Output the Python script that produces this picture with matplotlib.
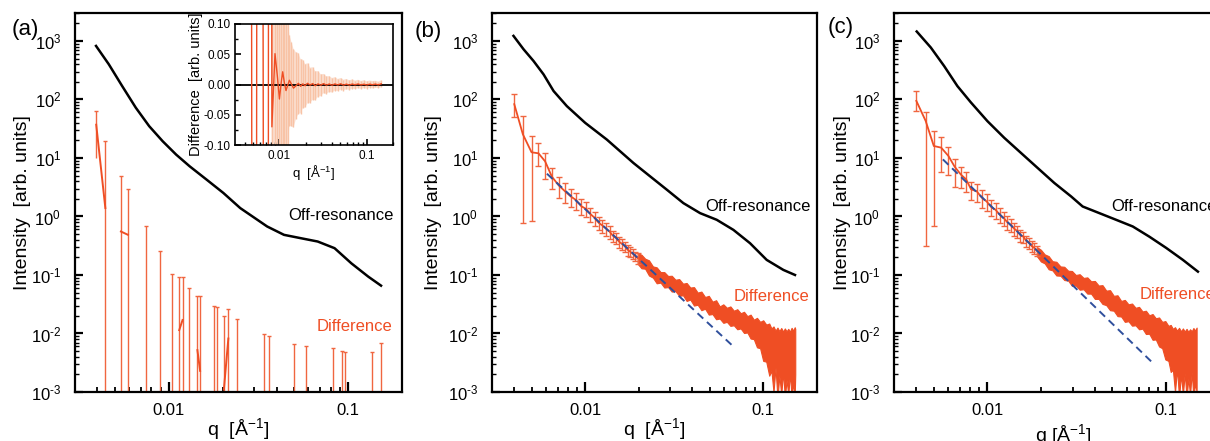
import numpy as np
import matplotlib.pyplot as plt
from matplotlib import ticker

plt.rcParams['font.family'] = ['Liberation Sans', 'DejaVu Sans']
plt.rcParams['mathtext.fontset'] = 'custom'
plt.rcParams['mathtext.rm'] = 'Liberation Sans'
plt.rcParams['mathtext.it'] = 'Liberation Sans:italic'
plt.rcParams['mathtext.bf'] = 'Liberation Sans:bold'

ORANGE = '#ef4e24'
BAR = '#f06640'
BLUE = '#2f4f9c'
LIGHT = '#f8c3a6'

# ---- off-resonance curves (q in 1/A, intensity in arb. units)
off_a_q = [0.00393, 0.00463, 0.0055, 0.00655, 0.00778, 0.00925, 0.0110, 0.01308, 0.01626, 0.02017,
           0.02505, 0.03539, 0.04394, 0.05455, 0.06773, 0.0841, 0.1044, 0.1297, 0.1528]
off_a_I = [821, 399, 169, 72.2, 34.9, 19.3, 11.4, 7.2, 4.26, 2.52, 1.39, 0.674, 0.485, 0.425,
           0.373, 0.287, 0.158, 0.0936, 0.0657]
off_b_q = [0.00396, 0.00451, 0.00513, 0.00584, 0.00665, 0.00789, 0.0100, 0.01323, 0.01866, 0.02314,
           0.02871, 0.03558, 0.04415, 0.05473, 0.06789, 0.08418, 0.1044, 0.1295, 0.1505]
off_b_I = [1219, 720, 454, 268, 139, 76.9, 39.8, 20.6, 8.2, 4.85, 2.87, 1.69, 1.14, 0.877, 0.59,
           0.349, 0.181, 0.122, 0.100]
off_c_q = [0.00402, 0.00482, 0.00572, 0.00679, 0.00807, 0.0100, 0.01241, 0.01539, 0.01907, 0.02365,
           0.02937, 0.03409, 0.04227, 0.05244, 0.06502, 0.08062, 0.1000, 0.1240, 0.1505]
off_c_I = [1449, 771, 373, 169, 89.2, 42.5, 22.1, 12.2, 6.76, 3.74, 2.2, 1.48, 1.14, 0.877,
           0.674, 0.45, 0.29, 0.181, 0.114]

# ---- panel (a): difference, only error-bar tops visible on log scale
diff_a_q = [0.00394, 0.00443, 0.00541, 0.00592, 0.00745, 0.00894, 0.0104, 0.01144, 0.01194, 0.01296,
            0.01445, 0.01496, 0.0179, 0.0186, 0.0203, 0.0215, 0.0240, 0.0340, 0.0361, 0.0502,
            0.0585, 0.0827, 0.0925, 0.0957, 0.1365, 0.1528]
diff_a_top = [63, 19.3, 5.0, 2.98, 0.69, 0.26, 0.103, 0.092, 0.091, 0.059, 0.044, 0.044, 0.029,
              0.028, 0.0198, 0.0258, 0.0174, 0.00975, 0.0090, 0.0065, 0.0061, 0.0057, 0.0051,
              0.0049, 0.0049, 0.0069]
diff_a_bot = [10, 1e-4, 1e-4, 1e-4, 1e-4, 1e-4, 1e-4, 1e-4, 1e-4, 1e-4, 1e-4, 1e-4, 1e-4,
              1e-4, 1e-4, 1e-4, 1e-4, 1e-4, 1e-4, 1e-4, 1e-4, 1e-4, 1e-4, 1e-4, 1e-4, 1e-4]
seg_a_q = [[0.00394, 0.00443], [0.00541, 0.00592], [0.01144, 0.01194], [0.01445, 0.01496], [0.0203, 0.0215]]
seg_a_I = [[37, 1.39], [0.553, 0.486], [0.0114, 0.017], [0.0052, 0.0023], [0.0011, 0.0082]]

# ---- inset of (a): linear difference
ins_q = [0.0045, 0.00515, 0.00585, 0.00727, 0.0077, 0.0082, 0.0089, 0.0095, 0.0100, 0.0105,
         0.0109, 0.0114, 0.0119, 0.0124, 0.0130, 0.0137, 0.0145, 0.0155, 0.0165, 0.0175,
         0.0185, 0.0197, 0.0210, 0.0225, 0.0240, 0.0258, 0.0277, 0.0298, 0.0320, 0.0345,
         0.0372, 0.0400, 0.0432, 0.0466, 0.0502, 0.0542, 0.0585, 0.0632, 0.0682, 0.0736,
         0.0795, 0.0858, 0.0926, 0.1000, 0.1080, 0.1165, 0.1258, 0.1358, 0.1466]
ins_val = [4.0, -4.0, 4.0, -4.0, 4.0, -0.07, 0.051, 0.012, -0.024, 0.004,
           0.021, 0.003, -0.010, -0.002, 0.007, 0.001, -0.006, -0.002, 0.002, -0.003,
           0.001, -0.002, 0.002, -0.001, 0.0015, -0.002, 0.001, -0.0012, 0.0015, -0.001,
           0.0008, -0.0012, 0.001, -0.0008, 0.0012, -0.001, 0.0006, -0.001, 0.0008, -0.0005,
           0.0009, -0.0007, 0.0005, -0.0008, 0.0006, -0.0004, 0.0007, -0.0006, 0.0012]
ins_err = [0.5, 0.5, 0.5, 0.5, 0.5, 0.5, 0.5, 0.5, 0.5, 0.45,
           0.3, 0.2, 0.15, 0.11, 0.075, 0.07, 0.065, 0.055, 0.05, 0.045,
           0.04, 0.036, 0.033, 0.029, 0.027, 0.024, 0.021, 0.018, 0.016, 0.0145,
           0.013, 0.012, 0.011, 0.010, 0.0095, 0.009, 0.0085, 0.008, 0.0075, 0.007,
           0.007, 0.0065, 0.0065, 0.006, 0.006, 0.006, 0.0055, 0.0055, 0.0055]

# ---- panel (b): difference with error bars + noisy high-q band
diff_b_q = [0.0040, 0.00447, 0.0050, 0.00547, 0.00596, 0.0065, 0.0071, 0.0077, 0.0083, 0.0089,
            0.0095, 0.0101, 0.0107, 0.0113, 0.0119, 0.0125, 0.0131, 0.0137, 0.0143, 0.0149,
            0.0155, 0.0161, 0.0167, 0.0173, 0.0179, 0.0185, 0.0191, 0.0197]
diff_b_I = [83, 25.4, 12.5, 12.0, 8.75, 4.8, 3.4, 2.7, 2.2, 1.9, 1.5, 1.35, 1.1, 0.95, 0.78,
            0.70, 0.62, 0.55, 0.47, 0.43, 0.37, 0.34, 0.31, 0.27, 0.25, 0.23, 0.21, 0.195]
diff_b_lo = [50, 0.785, 0.85, 7.2, 4.3, 3.0, 2.1, 1.73, 1.45, 1.29, 1.05, 0.96, 0.79, 0.69, 0.58,
             0.525, 0.47, 0.42, 0.37, 0.335, 0.29, 0.27, 0.25, 0.215, 0.20, 0.185, 0.17, 0.155]
diff_b_hi = [123, 51.8, 23.4, 17.8, 12.0, 6.8, 4.7, 3.67, 2.95, 2.51, 1.95, 1.74, 1.41, 1.21, 0.98,
             0.875, 0.77, 0.68, 0.57, 0.525, 0.45, 0.41, 0.37, 0.325, 0.30, 0.275, 0.25, 0.235]
band_b_q = [0.0197, 0.0207, 0.0217, 0.0228, 0.0240, 0.0252, 0.0265, 0.0278, 0.0292, 0.0306,
            0.0321, 0.0337, 0.0354, 0.0371, 0.0389, 0.0408, 0.0428, 0.0449, 0.0471, 0.0494,
            0.0518, 0.0543, 0.0569, 0.0596, 0.0624, 0.0653, 0.0683, 0.0714, 0.0746, 0.0779,
            0.0813, 0.0848, 0.0884, 0.0921, 0.0959, 0.0998, 0.1038, 0.1079, 0.1110, 0.1140,
            0.1170, 0.1200, 0.1230, 0.1260, 0.1290, 0.1320, 0.1350, 0.1380, 0.1410, 0.1440,
            0.1470, 0.1500, 0.1510]
band_b_hi = [0.235, 0.222, 0.19, 0.178, 0.14, 0.135, 0.112, 0.112, 0.096, 0.097,
             0.083, 0.085, 0.071, 0.073, 0.061, 0.062, 0.050, 0.052, 0.042, 0.044,
             0.035, 0.037, 0.029, 0.0315, 0.0275, 0.029, 0.0245, 0.026, 0.0222, 0.0235,
             0.0198, 0.021, 0.0172, 0.0185, 0.0158, 0.0168, 0.0142, 0.0148, 0.0122, 0.0132,
             0.0112, 0.0126, 0.0110, 0.0124, 0.0108, 0.0122, 0.0109, 0.0120, 0.0107, 0.0125,
             0.0112, 0.0128, 0.0120]
band_b_lo = [0.155, 0.13, 0.128, 0.098, 0.090, 0.072, 0.074, 0.061, 0.062, 0.052,
             0.053, 0.044, 0.045, 0.036, 0.038, 0.030, 0.031, 0.025, 0.0265, 0.021,
             0.0215, 0.0175, 0.018, 0.0152, 0.0158, 0.0135, 0.0138, 0.0118, 0.0122, 0.0102,
             0.0104, 0.0082, 0.0080, 0.0058, 0.0056, 0.0034, 0.0033, 0.0019, 0.0023, 0.0010,
             0.0026, 0.0008, 0.0019, 0.0009, 0.0022, 0.0008, 0.0016, 0.0009, 0.0021, 0.0008,
             0.0014, 0.0009, 0.0020]
fit_b_q = [0.0061, 0.0681]
fit_b_I = [5.38, 0.00594]

# ---- panel (c)
diff_c_q = [0.0040, 0.00451, 0.00501, 0.00551, 0.00605, 0.00655, 0.0071, 0.0076, 0.0081, 0.0087,
            0.0093, 0.0099, 0.0105, 0.0111, 0.0117, 0.0123, 0.0129, 0.0135, 0.0141, 0.0147,
            0.0153, 0.0159, 0.0165, 0.0171, 0.0177, 0.0183, 0.0189]
diff_c_I = [94.6, 43, 16, 15, 10.8, 7.1, 5.2, 4.3, 2.9, 2.7, 2.1, 1.8, 1.45, 1.3, 1.08, 0.95,
            0.80, 0.72, 0.62, 0.56, 0.48, 0.45, 0.38, 0.355, 0.31, 0.29, 0.26]
diff_c_lo = [63.7, 0.31, 0.70, 5.7, 5.2, 3.2, 3.1, 2.6, 1.9, 1.75, 1.4, 1.22, 1.0, 0.91, 0.77,
             0.69, 0.59, 0.54, 0.47, 0.43, 0.37, 0.35, 0.30, 0.28, 0.245, 0.23, 0.21]
diff_c_hi = [140, 61, 28.9, 23, 15.6, 9.5, 7.1, 5.8, 3.9, 3.65, 2.8, 2.38, 1.9, 1.69, 1.39, 1.21,
             1.01, 0.90, 0.77, 0.69, 0.59, 0.55, 0.46, 0.43, 0.375, 0.35, 0.31]
band_c_q = [0.0189, 0.0199, 0.0209, 0.0220, 0.0231, 0.0243, 0.0256, 0.0269, 0.0283, 0.0297,
            0.0312, 0.0328, 0.0345, 0.0362, 0.0380, 0.0399, 0.0419, 0.0440, 0.0462, 0.0485,
            0.0509, 0.0534, 0.0560, 0.0587, 0.0615, 0.0644, 0.0674, 0.0705, 0.0737, 0.0770,
            0.0804, 0.0839, 0.0875, 0.0912, 0.0950, 0.0989, 0.1029, 0.1060, 0.1090, 0.1120,
            0.1150, 0.1180, 0.1210, 0.1240, 0.1270, 0.1300, 0.1330, 0.1360, 0.1390, 0.1420,
            0.1450, 0.1480]
band_c_hi = [0.30, 0.27, 0.225, 0.21, 0.172, 0.168, 0.140, 0.138, 0.118, 0.117,
             0.100, 0.103, 0.089, 0.091, 0.078, 0.079, 0.066, 0.067, 0.054, 0.055,
             0.044, 0.045, 0.036, 0.0375, 0.0315, 0.0325, 0.0275, 0.0285, 0.0238, 0.0245,
             0.0205, 0.0215, 0.0182, 0.0188, 0.0158, 0.0163, 0.0135, 0.0140, 0.0120, 0.0128,
             0.0112, 0.0125, 0.0109, 0.0122, 0.0108, 0.0120, 0.0107, 0.0118, 0.0109, 0.0124,
             0.0112, 0.0126]
band_c_lo = [0.21, 0.17, 0.158, 0.125, 0.12, 0.098, 0.097, 0.082, 0.080, 0.065,
             0.066, 0.056, 0.057, 0.048, 0.048, 0.039, 0.039, 0.032, 0.0305, 0.025,
             0.0245, 0.0198, 0.0195, 0.0158, 0.0162, 0.0136, 0.0138, 0.0118, 0.0121, 0.0098,
             0.0099, 0.0078, 0.0079, 0.0060, 0.0056, 0.0036, 0.0034, 0.0022, 0.0024, 0.0010,
             0.0025, 0.0008, 0.0020, 0.0009, 0.0021, 0.0008, 0.0017, 0.0009, 0.0022, 0.0008,
             0.0014, 0.0010]
fit_c_q = [0.00563, 0.0839]
fit_c_I = [9.46, 0.00316]


def decade_label(v, pos):
    # 10 with a hyphen exponent, narrower than the math minus
    return r'$\mathdefault{10^{\text{%d}}}$' % int(round(np.log10(v)))


def style_log(ax):
    ax.set_xscale('log')
    ax.set_yscale('log')
    ax.set_xlim(0.003, 0.2)
    ax.set_ylim(1e-3, 3e3)
    for s in ax.spines.values():
        s.set_linewidth(1.6)
    ax.set_xticks([0.01, 0.1], ['0.01', '0.1'])
    ax.xaxis.set_minor_locator(ticker.LogLocator(10, subs=np.arange(2, 10), numticks=20))
    ax.xaxis.set_minor_formatter(ticker.NullFormatter())
    ax.yaxis.set_major_locator(ticker.LogLocator(10, numticks=20))
    ax.yaxis.set_major_formatter(ticker.FuncFormatter(decade_label))
    ax.yaxis.set_minor_locator(ticker.LogLocator(10, subs=np.arange(2, 10), numticks=60))
    ax.yaxis.set_minor_formatter(ticker.NullFormatter())
    ax.tick_params(which='both', direction='in', top=False, right=False, labelsize=12)
    ax.tick_params(axis='x', which='major', length=7, width=1.6, pad=8)
    ax.tick_params(axis='x', which='minor', length=3.5, width=1.3)
    ax.tick_params(axis='y', which='major', length=5.5, width=1.6, pad=10)
    ax.tick_params(axis='y', which='minor', length=3, width=1.0)
    ax.set_ylabel('Intensity  [arb. units]', fontsize=14)


def diff_panel(ax, q, I, lo, hi, bq, blo, bhi, fq, fI):
    I = np.array(I)
    yerr = [I - np.array(lo), np.array(hi) - I]
    ax.fill_between(bq, blo, bhi, color=ORANGE, lw=0.8, ec=ORANGE)
    ax.errorbar(q, I, yerr=yerr, color=ORANGE, ecolor=BAR, lw=1.3, elinewidth=1.0,
                capsize=2, capthick=1.0)
    ax.plot(fq, fI, color=BLUE, lw=1.4, dashes=(4, 2.6), zorder=5)


fig = plt.figure(figsize=(12.1, 4.41), dpi=100)
ax_a = fig.add_axes([75 / 1210, 49 / 441, 327 / 1210, 379 / 441])
ax_b = fig.add_axes([492 / 1210, 49 / 441, 325 / 1210, 379 / 441])
ax_c = fig.add_axes([894 / 1210, 49 / 441, 326 / 1210, 379 / 441])
for ax in (ax_a, ax_b, ax_c):
    style_log(ax)

# (a)
ax_a.plot(off_a_q, off_a_I, color='black', lw=1.8)
ax_a.vlines(diff_a_q, diff_a_bot, diff_a_top, color=BAR, lw=1.0)
ax_a.plot(diff_a_q, diff_a_top, ls='none', marker='_', ms=3, mew=1.0, color=BAR)
for sq, sI in zip(seg_a_q, seg_a_I):
    ax_a.plot(sq, sI, color=ORANGE, lw=1.4)
ax_a.text(0.0462, 1.03, 'Off-resonance', fontsize=12, va='center')
ax_a.text(0.0664, 0.013, 'Difference', fontsize=12, va='center', color=ORANGE)
ax_a.set_xlabel('q  [Å$^{-1}$]', fontsize=14)
ax_a.xaxis.set_label_coords(0.5, -0.064)
ax_a.yaxis.set_label_coords(-0.135, 0.5)

# (b)
ax_b.plot(off_b_q, off_b_I, color='black', lw=1.8)
diff_panel(ax_b, diff_b_q, diff_b_I, diff_b_lo, diff_b_hi, band_b_q, band_b_lo, band_b_hi,
           fit_b_q, fit_b_I)
ax_b.text(0.0472, 1.48, 'Off-resonance', fontsize=12, va='center')
ax_b.text(0.0677, 0.0436, 'Difference', fontsize=12, va='center', color=ORANGE)
ax_b.set_xlabel('q  [Å$^{-1}$]', fontsize=14)
ax_b.xaxis.set_label_coords(0.5, -0.064)
ax_b.yaxis.set_label_coords(-0.154, 0.5)

# (c)
ax_c.plot(off_c_q, off_c_I, color='black', lw=1.8)
diff_panel(ax_c, diff_c_q, diff_c_I, diff_c_lo, diff_c_hi, band_c_q, band_c_lo, band_c_hi,
           fit_c_q, fit_c_I)
ax_c.text(0.0491, 1.46, 'Off-resonance', fontsize=12, va='center', clip_on=False)
ax_c.text(0.0706, 0.047, 'Difference', fontsize=12, va='center', color=ORANGE, clip_on=False)
ax_c.set_xlabel('q [Å$^{-1}$]', fontsize=14)
ax_c.xaxis.set_label_coords(0.52, -0.080)
ax_c.yaxis.set_label_coords(-0.132, 0.5)

# inset
ax_in = fig.add_axes([235 / 1210, 296 / 441, 158 / 1210, 121 / 441])
ax_in.set_xscale('log')
ax_in.set_xlim(0.0031, 0.2)
ax_in.set_ylim(-0.1, 0.1)
ins_val_arr = np.array(ins_val)
ins_err_arr = np.array(ins_err)
ax_in.fill_between(ins_q, ins_val_arr - ins_err_arr, ins_val_arr + ins_err_arr, color=LIGHT,
                   lw=0, alpha=0.5)
ax_in.errorbar(ins_q, ins_val, yerr=ins_err, fmt='none', ecolor=LIGHT, elinewidth=1.0)
ax_in.axhline(0, color='black', lw=1.3)
ax_in.plot(ins_q, ins_val, color=ORANGE, lw=1.0)
for s in ax_in.spines.values():
    s.set_linewidth(1.2)
ax_in.set_xticks([0.01, 0.1], ['0.01', '0.1'])
ax_in.xaxis.set_minor_locator(ticker.LogLocator(10, subs=np.arange(2, 10), numticks=20))
ax_in.xaxis.set_minor_formatter(ticker.NullFormatter())
ax_in.set_yticks([-0.1, -0.05, 0, 0.05, 0.1])
ax_in.yaxis.set_major_formatter(ticker.FormatStrFormatter('%.2f'))
ax_in.yaxis.set_minor_locator(ticker.MultipleLocator(0.025))
ax_in.tick_params(which='both', direction='in', top=False, right=False, labelsize=8.5)
ax_in.tick_params(which='major', length=4, width=1.2, pad=3.5)
ax_in.tick_params(which='minor', length=2.5, width=1.0)
ax_in.set_xlabel('q  [Å$^{-1}$]', fontsize=9.5)
ax_in.set_ylabel('Difference  [arb. units]', fontsize=10.5)
ax_in.xaxis.set_label_coords(0.5, -0.15)
ax_in.yaxis.set_label_coords(-0.205, 0.5)

fig.text(12 / 1210, 1 - 29 / 441, '(a)', fontsize=16, va='center')
fig.text(415 / 1210, 1 - 31 / 441, '(b)', fontsize=16, va='center')
fig.text(828 / 1210, 1 - 28 / 441, '(c)', fontsize=16, va='center')

fig.savefig('out.png', dpi=100)
